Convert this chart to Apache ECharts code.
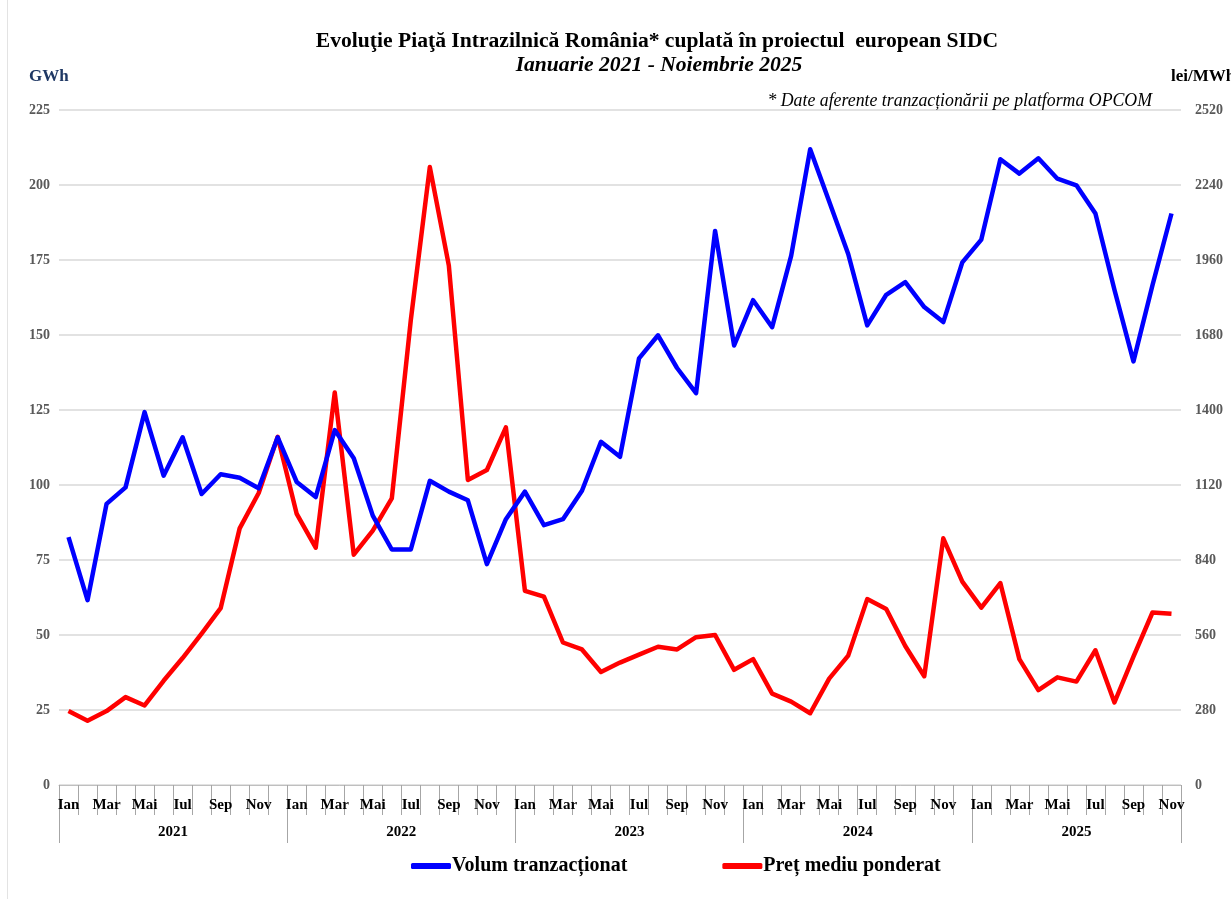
<!DOCTYPE html>
<html>
<head>
<meta charset="utf-8">
<title>SIDC</title>
<script src="https://cdn.jsdelivr.net/npm/echarts@6/dist/echarts.min.js"></script>
<style>
  html, body { margin: 0; padding: 0; background: #fff; }
  #chart { width: 1231px; height: 899px; }
  #frame { position: absolute; left: 7px; top: 0; width: 1px; height: 899px; background: #e3e3e3; }
</style>
</head>
<body>
<div id="frame"></div>
<div id="chart"></div>
<script>
// luni si ani (axa X pe doua niveluri)
const monthNames = ["Ian", "Feb", "Mar", "Apr", "Mai", "Iun", "Iul", "Aug", "Sep", "Oct", "Nov", "Dec"];
const years = ["2021", "2022", "2023", "2024", "2025"];
const monthsPerYear = [12, 12, 12, 12, 11];

// GWh
const volum = [
  82.6, 61.6, 93.7, 99.2, 124.3, 103.1, 115.9, 97.0, 103.6, 102.4, 98.9, 115.9,
  101.0, 96.0, 118.3, 108.9, 89.8, 78.5, 78.5, 101.4, 97.8, 94.9, 73.6, 88.6,
  97.8, 86.6, 88.6, 98.1, 114.4, 109.4, 142.2, 149.9, 139.0, 130.6, 184.7, 146.5,
  161.6, 152.6, 176.4, 211.9, 194.5, 177.0, 153.2, 163.4, 167.6, 159.3, 154.3, 174.2,
  181.8, 208.6, 203.8, 208.9, 202.1, 199.9, 190.5, 165.1, 141.2, 166.6, 190.5
];

// lei/MWh
const pret = [
  276, 240, 276, 328, 297, 389, 474, 565, 660, 958, 1090, 1300,
  1012, 886, 1465, 860, 950, 1070, 1736, 2307, 1939, 1139, 1176, 1335,
  725, 703, 532, 506, 422, 457, 487, 516, 506, 552, 560, 430,
  470, 341, 311, 268, 397, 483, 694, 657, 519, 406, 921, 759,
  662, 754, 470, 354, 402, 386, 503, 308, 479, 644, 639
];

const leftTicks = { min: 0, max: 225, interval: 25 };
const rightTicks = { min: 0, max: 2520, interval: 280 };

// categorii "Ian 2021" ... "Nov 2025"
const categories = [];
const yearStart = [];
years.forEach((y, yi) => {
  yearStart.push(categories.length);
  for (let m = 0; m < monthsPerYear[yi]; m++) categories.push(monthNames[m] + " " + y);
});

// eticheta anului la mijlocul anului (la jumatate de luna pentru anii cu 12 luni)
const yearLabelAt = {};
years.forEach((y, yi) => {
  const n = monthsPerYear[yi];
  const idx = yearStart[yi] + Math.floor((n - 1) / 2);
  yearLabelAt[idx] = { text: y, half: n % 2 === 0 };
});

const serif = "'Liberation Serif', 'Times New Roman', serif";
const chart = echarts.init(document.getElementById("chart"));

chart.setOption({
  animation: false,
  textStyle: { fontFamily: serif },
  title: [
    {
      text: "Evoluţie Piaţă Intrazilnică România* cuplată în proiectul  european SIDC",
      left: 652, top: 25, textAlign: "center",
      textStyle: { fontFamily: serif, fontSize: 21.6, fontWeight: "bold", color: "#000" }
    },
    {
      text: "Ianuarie 2021 - Noiembrie 2025",
      left: 654, top: 49, textAlign: "center",
      textStyle: { fontFamily: serif, fontSize: 21.6, fontWeight: "bold", fontStyle: "italic", color: "#000" }
    },
    {
      text: "* Date aferente tranzacționării pe platforma OPCOM",
      right: 74, top: 87,
      textStyle: { fontFamily: serif, fontSize: 17.8, fontWeight: "normal", fontStyle: "italic", color: "#000" }
    },
    {
      text: "GWh",
      left: 24, top: 63,
      textStyle: { fontFamily: serif, fontSize: 17, fontWeight: "bold", color: "#1f3864" }
    },
    {
      text: "lei/MWh",
      left: 1166, top: 63,
      textStyle: { fontFamily: serif, fontSize: 17, fontWeight: "bold", color: "#000" }
    }
  ],
  legend: {
    bottom: 18,
    left: 406,
    itemGap: 95,
    itemWidth: 40,
    itemHeight: 6,
    icon: "roundRect",
    textStyle: { fontFamily: serif, fontSize: 20, fontWeight: "bold", color: "#000", padding: [0, 0, 0, -4] },
    data: ["Volum tranzacționat", "Preț mediu ponderat"]
  },
  grid: { left: 59, right: 50, top: 110, bottom: 114 },
  xAxis: [
    {
      type: "category",
      data: categories,
      boundaryGap: true,
      position: "bottom",
      axisLine: { show: true, lineStyle: { color: "#bfbfbf", width: 1 } },
      axisTick: { show: true, interval: 0, length: 30, lineStyle: { color: "#a6a6a6", width: 1 } },
      axisLabel: {
        interval: 1,
        margin: 13,
        formatter: (v) => v.split(" ")[0],
        fontFamily: serif, fontSize: 15, fontWeight: "bold", color: "#000"
      },
      splitLine: { show: false }
    },
    {
      type: "category",
      data: categories,
      boundaryGap: true,
      position: "bottom",
      axisLine: { show: false },
      axisTick: {
        show: true,
        interval: (i) => yearStart.indexOf(i) >= 0,
        length: 58,
        lineStyle: { color: "#a6a6a6", width: 1 }
      },
      axisLabel: {
        interval: 0,
        margin: 40,
        hideOverlap: false,
        formatter: (v, i) => {
          const l = yearLabelAt[i];
          if (!l) return "";
          return l.half ? "{h|" + l.text + "}" : "{f|" + l.text + "}";
        },
        rich: {
          h: { fontFamily: serif, fontSize: 15, fontWeight: "bold", color: "#000", padding: [0, 0, 0, 19] },
          f: { fontFamily: serif, fontSize: 15, fontWeight: "bold", color: "#000" }
        }
      },
      splitLine: { show: false }
    }
  ],
  yAxis: [
    {
      type: "value",
      position: "left",
      min: leftTicks.min, max: leftTicks.max, interval: leftTicks.interval,
      axisLine: { show: false },
      axisTick: { show: false },
      axisLabel: { margin: 9, fontFamily: serif, fontSize: 14, fontWeight: "bold", color: "#595959" },
      splitLine: { lineStyle: { color: "#d9d9d9", width: 1.5 } }
    },
    {
      type: "value",
      position: "right",
      min: rightTicks.min, max: rightTicks.max, interval: rightTicks.interval,
      axisLine: { show: false },
      axisTick: { show: false },
      axisLabel: {
        margin: 14, fontFamily: serif, fontSize: 14, fontWeight: "bold", color: "#595959",
        formatter: (v) => String(v)
      },
      splitLine: { show: false }
    }
  ],
  series: [
    {
      name: "Volum tranzacționat",
      type: "line",
      xAxisIndex: 0,
      yAxisIndex: 0,
      data: volum,
      symbol: "none",
      lineStyle: { color: "#0000ff", width: 4.5, join: "round" },
      itemStyle: { color: "#0000ff" },
      z: 3
    },
    {
      name: "Preț mediu ponderat",
      type: "line",
      xAxisIndex: 0,
      yAxisIndex: 1,
      data: pret,
      symbol: "none",
      lineStyle: { color: "#ff0000", width: 4.5, join: "round" },
      itemStyle: { color: "#ff0000" },
      z: 2
    }
  ]
});
</script>
</body>
</html>
